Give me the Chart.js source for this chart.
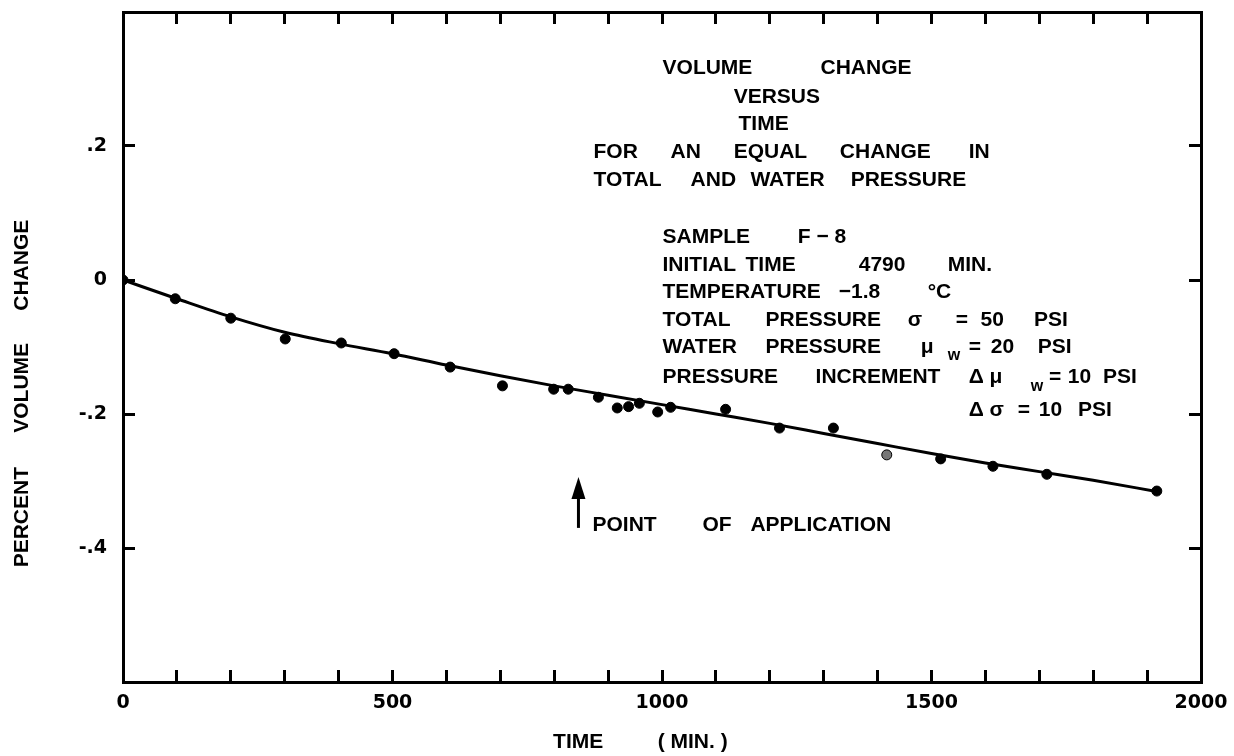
<!DOCTYPE html>
<html>
<head>
<meta charset="utf-8">
<script src="https://cdn.jsdelivr.net/npm/chart.js@4/dist/chart.umd.min.js"></script>
<style>
  body { margin: 0; background: #fff; }
</style>
</head>
<body>
<canvas id="myChart" width="1234" height="756"></canvas>
<script>
// measured points: time (min) vs percent volume change
const timeObs = [0, 97, 200, 301, 405, 503, 607, 704, 799, 826, 882, 917, 938, 958, 992, 1016, 1118, 1218, 1318, 1417, 1517, 1614, 1714, 1918];
const volObs = [0, -0.028, -0.057, -0.088, -0.094, -0.110, -0.130, -0.158, -0.163, -0.163, -0.175, -0.191, -0.189, -0.184, -0.197, -0.190, -0.193, -0.221, -0.221, -0.261, -0.267, -0.278, -0.290, -0.315];

// hand-drawn fitted curve
const timeFit = [0, 100, 200, 300, 400, 500, 600, 700, 800, 900, 1000, 1100, 1200, 1300, 1400, 1500, 1600, 1700, 1800, 1920];
const volFit = [0, -0.028, -0.055, -0.078, -0.095, -0.110, -0.127, -0.143, -0.158, -0.172, -0.186, -0.200, -0.214, -0.229, -0.244, -0.259, -0.273, -0.286, -0.299, -0.316];

const xLabels = [0, 500, 1000, 1500, 2000];
const yLabels = { "0.2": ".2", "0": "0", "-0.2": "-.2", "-0.4": "-.4" };

// text block: [text, time, volume, subscript?]
const notes = [
  ["VOLUME", 1001, 0.316], ["CHANGE", 1294, 0.316],
  ["VERSUS", 1133, 0.273],
  ["TIME", 1142, 0.233],
  ["FOR", 873, 0.191], ["AN", 1016, 0.191], ["EQUAL", 1133, 0.191], ["CHANGE", 1330, 0.191], ["IN", 1569, 0.191],
  ["TOTAL", 873, 0.149], ["AND", 1053, 0.149], ["WATER", 1164, 0.149], ["PRESSURE", 1350, 0.149],
  ["SAMPLE", 1001, 0.064], ["F − 8", 1252, 0.064],
  ["INITIAL", 1001, 0.022], ["TIME", 1155, 0.022], ["4790", 1365, 0.022], ["MIN.", 1530, 0.022],
  ["TEMPERATURE", 1001, -0.018], ["−1.8", 1328, -0.018], ["°C", 1493, -0.018],
  ["TOTAL", 1001, -0.060], ["PRESSURE", 1192, -0.060], ["σ", 1456, -0.060], ["=", 1545, -0.060], ["50", 1591, -0.060], ["PSI", 1690, -0.060],
  ["WATER", 1001, -0.100], ["PRESSURE", 1192, -0.100], ["μ", 1480, -0.100], ["w", 1530, -0.100, true], ["=", 1569, -0.100], ["20", 1610, -0.100], ["PSI", 1697, -0.100],
  ["PRESSURE", 1001, -0.145], ["INCREMENT", 1285, -0.145], ["Δ μ", 1569, -0.145], ["w", 1684, -0.145, true], ["=", 1718, -0.145], ["10", 1753, -0.145], ["PSI", 1818, -0.145],
  ["Δ σ", 1569, -0.194], ["=", 1660, -0.194], ["10", 1699, -0.194], ["PSI", 1772, -0.194],
  ["POINT", 871, -0.366], ["OF", 1075, -0.366], ["APPLICATION", 1164, -0.366],
  ["TIME", 798, -0.690], ["( MIN. )", 992, -0.690]
];
const yTitle = [["PERCENT", -0.354], ["VOLUME", -0.161], ["CHANGE", 0.022]];
const arrowAt = { time: 845, from: -0.370, to: -0.294 };

const textFont = 'bold 21px "Liberation Sans", Arial, sans-serif';

const notesPlugin = {
  id: 'notes',
  afterDraw(chart) {
    const { ctx, scales } = chart;
    const x = scales.x, y = scales.y;
    ctx.save();
    ctx.fillStyle = '#000';
    ctx.strokeStyle = '#000';
    ctx.textBaseline = 'middle';
    ctx.textAlign = 'left';
    notes.forEach(([t, tx, ty, sub]) => {
      ctx.font = sub ? 'bold 16px "Liberation Sans", Arial, sans-serif' : textFont;
      ctx.fillText(t, x.getPixelForValue(tx), y.getPixelForValue(ty) + (sub ? 9 : 0));
    });

    // arrow for point of application
    const ax = x.getPixelForValue(arrowAt.time);
    const y1 = y.getPixelForValue(arrowAt.from), y2 = y.getPixelForValue(arrowAt.to);
    ctx.lineWidth = 3;
    ctx.beginPath();
    ctx.moveTo(ax, y1);
    ctx.lineTo(ax, y2 + 14);
    ctx.stroke();
    ctx.beginPath();
    ctx.moveTo(ax, y2);
    ctx.lineTo(ax - 7, y2 + 22);
    ctx.lineTo(ax + 7, y2 + 22);
    ctx.closePath();
    ctx.fill();

    // rotated y title
    ctx.font = textFont;
    ctx.textAlign = 'center';
    yTitle.forEach(([t, ty]) => {
      ctx.save();
      ctx.translate(22, y.getPixelForValue(ty));
      ctx.rotate(-Math.PI / 2);
      ctx.fillText(t, 0, 0);
      ctx.restore();
    });
    ctx.restore();
  }
};

function axisStyle() {
  return {
    drawOnChartArea: false,
    drawTicks: true,
    tickLength: -12,
    tickWidth: 3,
    tickColor: '#000',
  };
}
const border = { display: true, width: 3, color: '#000' };
const tickFont = { family: '"DejaVu Sans", sans-serif', size: 19, weight: 'bold' };

// fixed box sizes so the plot area lands where the original frame is
function fixBox(w, h) {
  return (s) => {
    if (w !== null) s.width = w;
    if (h !== null) s.height = h;
    s.paddingTop = 0;
    s.paddingBottom = 0;
    s.paddingLeft = 0;
    s.paddingRight = 0;
  };
}

const ctx = document.getElementById('myChart');

const myChart = new Chart(ctx, {
  type: 'scatter',
  plugins: [notesPlugin],
  data: {
    datasets: [
      {
        label: 'fit',
        data: timeFit.map((t, i) => ({ x: t, y: volFit[i] })),
        showLine: true,
        borderColor: '#000',
        borderWidth: 3,
        pointRadius: 0,
        cubicInterpolationMode: 'monotone',
        xAxisID: 'x',
        yAxisID: 'y',
      },
      {
        label: 'measured',
        data: timeObs.map((t, i) => ({ x: t, y: volObs[i] })),
        showLine: false,
        pointRadius: 5,
        backgroundColor: timeObs.map((t) => (t === 1417 ? '#777' : '#000')),
        pointBorderColor: '#000',
        pointBorderWidth: 1,
        xAxisID: 'x',
        yAxisID: 'y',
      },
    ],
  },
  options: {
    responsive: false,
    animation: false,
    layout: { padding: 0 },
    plugins: {
      legend: { display: false },
      tooltip: { enabled: false },
      title: { display: false },
    },
    scales: {
      x: {
        type: 'linear',
        position: 'bottom',
        min: 0,
        max: 2000,
        grid: axisStyle(),
        border: border,
        ticks: {
          stepSize: 100,
          autoSkip: false,
          maxRotation: 0,
          padding: 22,
          color: '#000',
          font: tickFont,
          callback: (v) => (xLabels.includes(v) ? String(v) : ''),
        },
        afterFit: fixBox(null, 74),
      },
      x2: {
        type: 'linear',
        position: 'top',
        min: 0,
        max: 2000,
        grid: axisStyle(),
        border: border,
        ticks: { stepSize: 100, autoSkip: false, maxRotation: 0, callback: () => '' },
        afterFit: fixBox(null, 12),
      },
      y: {
        type: 'linear',
        position: 'left',
        min: -0.6,
        max: 0.4,
        grid: axisStyle(),
        border: border,
        ticks: {
          stepSize: 0.2,
          padding: 28,
          color: '#000',
          font: tickFont,
          callback: (v) => yLabels[String(Math.round(v * 10) / 10)] || '',
        },
        afterFit: fixBox(123, null),
      },
      y2: {
        type: 'linear',
        position: 'right',
        min: -0.6,
        max: 0.4,
        grid: axisStyle(),
        border: border,
        ticks: { stepSize: 0.2, callback: () => '' },
        afterFit: fixBox(33, null),
      },
    },
  },
});
</script>
</body>
</html>
